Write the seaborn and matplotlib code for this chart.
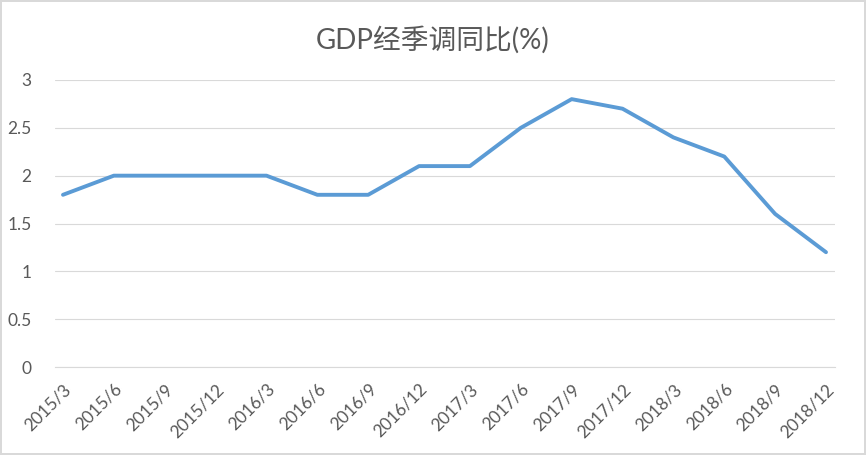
import matplotlib
matplotlib.use('Agg')
import matplotlib.pyplot as plt
from matplotlib.ticker import FixedLocator
import numpy as np
import pandas as pd
import seaborn as sns

quarters = ['2015/3', '2015/6', '2015/9', '2015/12',
            '2016/3', '2016/6', '2016/9', '2016/12',
            '2017/3', '2017/6', '2017/9', '2017/12',
            '2018/3', '2018/6', '2018/9', '2018/12']
gdp_yoy = [1.8, 2.0, 2.0, 2.0, 2.0, 1.8, 1.8, 2.1,
           2.1, 2.5, 2.8, 2.7, 2.4, 2.2, 1.6, 1.2]
y_ticks = [0, 0.5, 1, 1.5, 2, 2.5, 3]

sns.set_style('white')
plt.rcParams['font.family'] = ['Lato', 'Noto Sans CJK SC', 'DejaVu Sans']

df = pd.DataFrame({'x': np.arange(len(quarters)), 'gdp': gdp_yoy})

fig = plt.figure(figsize=(8.66, 4.55), dpi=100)
fig.patch.set_edgecolor('#D9D9D9')
fig.patch.set_linewidth(1.5)
ax = fig.add_axes([55 / 866, 88 / 455, 780 / 866, 287 / 455])

sns.lineplot(data=df, x='x', y='gdp', ax=ax, color='#5B9BD5', linewidth=2.8,
             solid_capstyle='round', solid_joinstyle='round')

ax.set_xlim(-0.157, len(quarters) - 1 + 0.177)
ax.set_ylim(0, 3)
ax.set_yticks(y_ticks)
ax.set_yticklabels([f'{v:g}' for v in y_ticks])
ax.set_xticks(df['x'])
ax.set_xticklabels(quarters, rotation=45, ha='right', rotation_mode='anchor')
ax.xaxis.set_minor_locator(FixedLocator(df['x'] - 0.157))
ax.tick_params(axis='x', which='major', length=0, pad=10, labelsize=12.5, labelcolor='#595959')
ax.tick_params(axis='x', which='minor', length=5, color='#D9D9D9', width=0.8, direction='out')
ax.tick_params(axis='y', length=0, pad=17, labelsize=12.5, labelcolor='#595959')
ax.grid(axis='y', color='#D9D9D9', linewidth=0.8)
ax.set_axisbelow(True)
for side in ['top', 'right', 'left']:
    ax.spines[side].set_visible(False)
ax.spines['bottom'].set_color('#D9D9D9')
ax.spines['bottom'].set_linewidth(0.8)
ax.set_xlabel('')
ax.set_ylabel('')

fig.text(0.5, 1 - 40 / 455, 'GDP经季调同比(%)', ha='center', va='center',
         fontsize=20, color='#595959')

fig.savefig('out.png', dpi=100, edgecolor=fig.get_edgecolor())
